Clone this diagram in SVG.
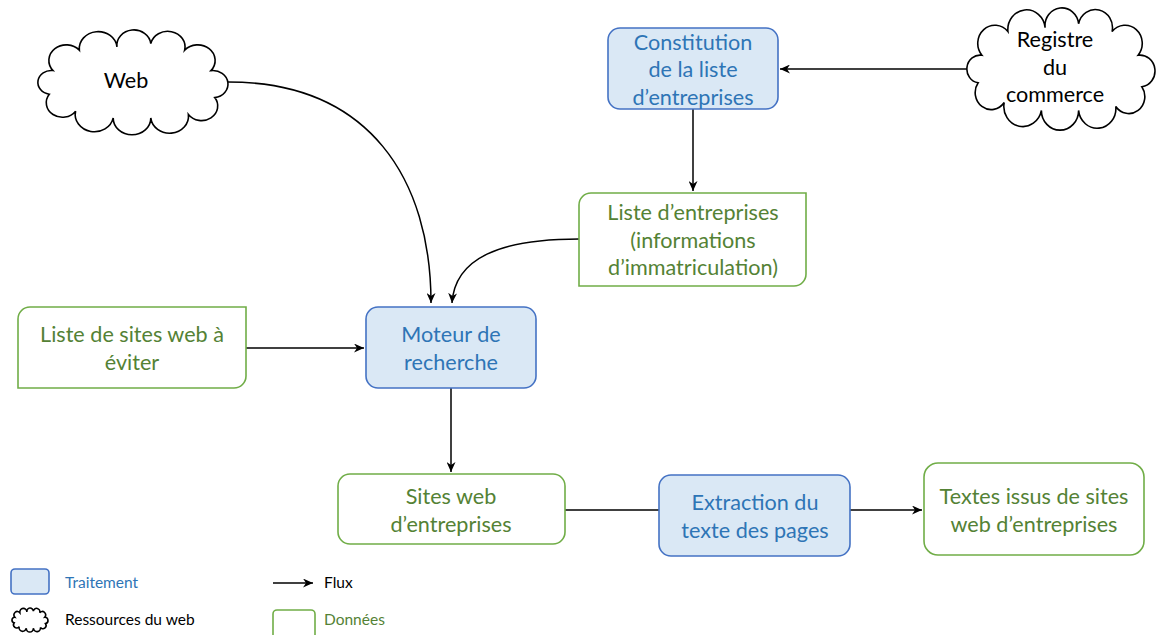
<svg xmlns="http://www.w3.org/2000/svg" xmlns:xlink="http://www.w3.org/1999/xlink" width="1156" height="635" viewBox="0 0 1156 635">
<style>
text{font-family:Lato,"Open Sans","Liberation Sans",sans-serif;text-anchor:middle}
.lbl{font-size:21.6px}
.leg{font-size:15.5px;text-anchor:start}
.proc rect{fill:#dae8f5;stroke:#4472c4;stroke-width:1.6}
.proc text{fill:#2e75b6}
.data rect,.data path{fill:#fff;stroke:#70ad47;stroke-width:1.6}
.data text{fill:#548235}
.cloud use{fill:#fff;stroke:#000}
.cloud text{fill:#000}
.conn path{fill:none;stroke:#000;stroke-width:1.5}
</style>
<defs>
<path id="cloudShape" vector-effect="non-scaling-stroke" stroke-width="1.6" d="M8,22 A1,1 0 0 1 22,10 A1,1 0 0 1 42,8 A1,1 0 0 1 60,6 A1,1 0 0 1 78,10 A1,1 0 0 1 92,22 A1,1 0 0 1 94,38 A1,1 0 0 1 80,48 A1,1 0 0 1 60,50 A1,1 0 0 1 40,50 A1,1 0 0 1 20,46 A1,1 0 0 1 6,36 A1,1 0 0 1 8,22 Z"/>
<marker id="arr" markerUnits="userSpaceOnUse" markerWidth="11" markerHeight="9" refX="10" refY="4.5" orient="auto">
<path d="M0,0 L10,4.5 L0,9 L3,4.5 Z" fill="#000"/>
</marker>
</defs>

<g id="connectors" class="conn">
<path d="M967,69 H780" marker-end="url(#arr)"/>
<path d="M693,109 V191" marker-end="url(#arr)"/>
<path d="M228,82 C370,82 431,180 431,303" marker-end="url(#arr)"/>
<path d="M579,239 C500,239 455,258 452,303" marker-end="url(#arr)"/>
<path d="M246,348 H364" marker-end="url(#arr)"/>
<path d="M451,388 V472" marker-end="url(#arr)"/>
<path d="M565,510 H659"/>
<path d="M850,510 H922" marker-end="url(#arr)"/>
</g>

<g id="web" class="cloud">
<use xlink:href="#cloudShape" href="#cloudShape" transform="translate(38,33.4) scale(1.88,1.69)"/>
<text class="lbl" x="126" y="88">Web</text>
</g>

<g id="registre" class="cloud">
<use xlink:href="#cloudShape" href="#cloudShape" transform="translate(967,11.9) scale(1.86,1.97)"/>
<text class="lbl" x="1055" y="47">Registre</text>
<text class="lbl" x="1055" y="75">du</text>
<text class="lbl" x="1055" y="102">commerce</text>
</g>

<g id="constitution" class="proc">
<rect x="608" y="28" width="170" height="81" rx="12"/>
<text class="lbl" x="693" y="50">Constitution</text>
<text class="lbl" x="693" y="77">de la liste</text>
<text class="lbl" x="693" y="105">d’entreprises</text>
</g>

<g id="liste-entreprises" class="data">
<path d="M579,205 A12,12 0 0 1 591,193 H806 V274 A12,12 0 0 1 794,286 H579 Z"/>
<text class="lbl" x="693" y="220">Liste d’entreprises</text>
<text class="lbl" x="693" y="248">(informations</text>
<text class="lbl" x="693" y="275">d’immatriculation)</text>
</g>

<g id="liste-sites" class="data">
<path d="M18,319 A12,12 0 0 1 30,307 H246 V376 A12,12 0 0 1 234,388 H18 Z"/>
<text class="lbl" x="132" y="342">Liste de sites web à</text>
<text class="lbl" x="132" y="370">éviter</text>
</g>

<g id="moteur" class="proc">
<rect x="366" y="307" width="170" height="81" rx="12"/>
<text class="lbl" x="451" y="342">Moteur de</text>
<text class="lbl" x="451" y="370">recherche</text>
</g>

<g id="sites-web" class="data">
<rect x="338" y="474" width="227" height="70" rx="12"/>
<text class="lbl" x="451" y="504">Sites web</text>
<text class="lbl" x="451" y="532">d’entreprises</text>
</g>

<g id="extraction" class="proc">
<rect x="659" y="475" width="191" height="81" rx="12"/>
<text class="lbl" x="755" y="510">Extraction du</text>
<text class="lbl" x="755" y="538">texte des pages</text>
</g>

<g id="textes" class="data">
<rect x="924" y="463" width="220" height="92" rx="14"/>
<text class="lbl" x="1034" y="504">Textes issus de sites</text>
<text class="lbl" x="1034" y="532">web d’entreprises</text>
</g>

<g id="legend">
<g id="legend-traitement" class="proc">
<rect x="11" y="569" width="38" height="25" rx="4"/>
<text class="leg" x="65" y="588">Traitement</text>
</g>
<g id="legend-flux" class="conn">
<path d="M273,583 H313" marker-end="url(#arr)"/>
<text class="leg" x="324" y="588" fill="#000">Flux</text>
</g>
<g id="legend-ressources" class="cloud">
<use xlink:href="#cloudShape" href="#cloudShape" transform="translate(12,608.8) scale(0.356,0.387)"/>
<text class="leg" x="65" y="625">Ressources du web</text>
</g>
<g id="legend-donnees" class="data">
<rect x="273" y="610" width="42" height="30" rx="4"/>
<text class="leg" x="324" y="625">Données</text>
</g>
</g>
</svg>
